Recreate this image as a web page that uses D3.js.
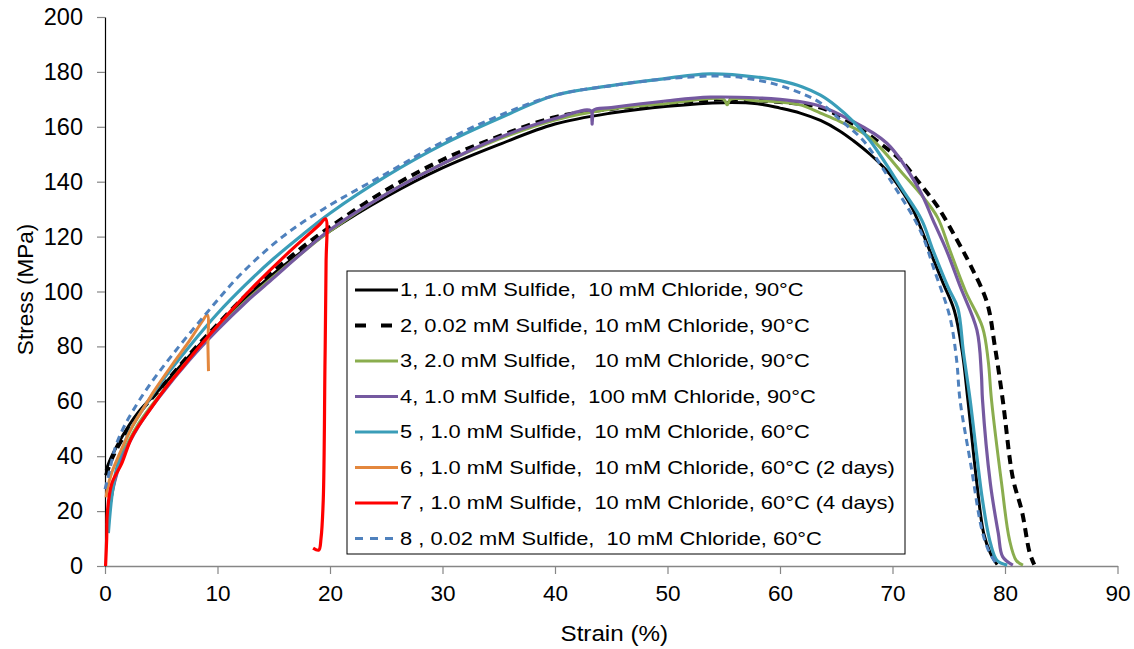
<!DOCTYPE html>
<html>
<head>
<meta charset="utf-8">
<script src="https://cdn.jsdelivr.net/npm/d3@7"></script>
<style>
  body { margin: 0; background: #fff; }
  text { font-family: "Liberation Sans", Arial, sans-serif; fill: #000; }
</style>
</head>
<body>
<script>
// Step 1: data, [strain %, stress MPa]
//= ================================
var s1 = [[0.1,35],[0.6,40],[1.5,47],[2.9,55.7],[5,65],[7.5,76.5],[10,87.5],[12.5,97.5],[15,106.5],[17.5,114.5],[20,122],[25,134.5],[30,145],[35,153.5],[40,161],[45,165],[50,167.5],[55,168.8],[58,168.4],[60,166.8],[61.8,165],[63.6,162.3],[65.3,158.5],[66.5,155],[68,150],[69.5,144],[70.7,137.5],[71.8,130],[73.3,115],[74.5,103],[75.5,93],[76.2,78],[76.7,60.5],[77.5,30],[78.1,12],[78.7,4.7],[79.3,0.5]];
var s2 = [[0.1,33],[0.6,39],[1.5,46],[3,55.5],[5,65],[7.5,77],[10,88],[12.5,98.5],[15,107.5],[17.5,116],[20,123.5],[25,137],[30,148],[35,156.5],[40,163.5],[45,166.5],[50,168.5],[55,170],[60,169],[63.6,167],[66.5,161],[69.2,153],[70.7,148],[72.4,139.5],[74,131],[75.7,119],[77,109],[78.4,96],[79.1,80],[79.8,60.5],[80.7,32],[81.5,20],[82.2,4.7],[82.6,0.5]];
var s3 = [[0.3,18],[0.8,30],[1.5,40],[3,52],[5,63],[7.5,75.5],[10,86.5],[12.5,96.5],[15,105.5],[17.5,114],[20,122],[25,135.5],[30,146.5],[35,155.5],[40,162.5],[45,166.5],[50,168.5],[55,170],[55.3,168],[55.6,170],[58,169.5],[60,169],[61.8,168],[63.6,165],[65.3,162],[68,156],[70.9,143],[72.5,135.5],[74,127],[75.1,115],[76.5,100],[78,87],[78.5,75],[78.8,60.5],[79.7,30],[80.4,9.5],[81,2],[81.6,0.3]];
var s4 = [[0.2,15],[0.7,28],[1.5,39],[3,51],[5,62.5],[7.5,75],[10,86],[12.5,96],[15,105],[17.5,114],[20,122.5],[25,135.5],[30,146.5],[35,156],[40,163],[43.2,165.8],[43.3,161],[43.4,166],[45,167],[50,169.5],[53.8,170.8],[58.2,170.5],[60,170],[62,169],[63.6,167.5],[66,163],[69.5,154],[72.4,137],[73.6,126],[74.8,115],[76,102],[77.5,86],[77.9,70],[78,60.5],[78.7,30],[79.4,12],[79.8,3.3],[80.7,0.3]];
var s5 = [[0.3,12],[0.6,25],[1,35],[2,47.5],[3.5,58],[5,67],[7.5,80],[10,92],[12.5,102.5],[15,112],[17.5,120.5],[20,128.5],[25,142],[30,153.5],[35,163],[40,171.5],[45,175],[48.7,177],[53.8,179.3],[58.2,178],[60,176.8],[62,174.5],[63.6,171.5],[65,167.5],[66.5,162],[68,155],[70.9,137],[72.6,126],[73.6,115],[75,101],[75.8,94],[76.3,78],[76.9,60.5],[77.5,40],[78,24],[78.7,8.4],[79.3,2],[80.2,0.3]];
var s6 = [[0.1,25],[0.2,28],[0.6,34],[1.2,40],[2.4,50.6],[3.5,58],[4.4,64],[6,73.5],[7.5,82],[8.7,89.5],[9.1,91.5],[9.15,80],[9.2,71]];
var s7 = [[0.05,0],[0.15,10],[0.2,19],[0.6,30],[1.5,37.5],[2.4,47],[4,57],[5.6,66],[7,73],[8.5,80.5],[10,87.5],[12.9,100.5],[16,113],[19.1,124.5],[19.6,126.5],[19.65,110],[19.55,72.5],[19.4,24],[19.2,10],[19.0,5.8],[18.5,6.5]];
var s8 = [[0,28],[0.2,31],[0.9,43],[1.6,50],[2.4,56],[3.8,65],[6,77],[9,92],[12,106],[15.8,120],[19.4,130],[25,143],[30,154.5],[35,164],[40,171.5],[45,175],[50,177.5],[55,178.5],[58,177],[60,175],[62,172],[63.6,168.7],[65.5,162],[67.4,155],[69.8,140.6],[72,126],[72.8,119],[73.7,108],[75.1,90.7],[75.7,75],[76,60.5],[77,36],[77.9,14],[78.5,6],[79.3,0.3]];

var labels = [
  "1, 1.0 mM Sulfide,  10 mM Chloride, 90°C",
  "2, 0.02 mM Sulfide, 10 mM Chloride, 90°C",
  "3, 2.0 mM Sulfide,   10 mM Chloride, 90°C",
  "4, 1.0 mM Sulfide,  100 mM Chloride, 90°C",
  "5 , 1.0 mM Sulfide,  10 mM Chloride, 60°C",
  "6 , 1.0 mM Sulfide,  10 mM Chloride, 60°C (2 days)",
  "7 , 1.0 mM Sulfide,  10 mM Chloride, 60°C (4 days)",
  "8 , 0.02 mM Sulfide,  10 mM Chloride, 60°C"
];
var xTicks = [0, 10, 20, 30, 40, 50, 60, 70, 80, 90];
var yTicks = [0, 20, 40, 60, 80, 100, 120, 140, 160, 180, 200];

// styles per series
var series = [
  {data: s1, color: "#000000", width: 3, dash: null, ldash: null},
  {data: s2, color: "#000000", width: 4, dash: "9,6", ldash: "11,15"},
  {data: s3, color: "#8aad4e", width: 3, dash: null, ldash: null},
  {data: s4, color: "#7559a0", width: 3.2, dash: null, ldash: null},
  {data: s5, color: "#3a9db8", width: 3.2, dash: null, ldash: null},
  {data: s6, color: "#e3873d", width: 3, dash: null, ldash: null},
  {data: s7, color: "#ff0000", width: 3.2, dash: null, ldash: null},
  {data: s8, color: "#4f81bd", width: 3, dash: "7,5", ldash: "8,7"}
];

// Step 2: chart frame
var margin = {top: 17, right: 16.5, bottom: 83, left: 105},
    width = 1134 - margin.left - margin.right,
    height = 649 - margin.top - margin.bottom;

var svg = d3.select("body")
    .append("svg")
    .attr("width", 1134)
    .attr("height", 649)
    .append("g")
    .attr("transform", "translate(" + margin.left + "," + margin.top + ")");

var x = d3.scaleLinear().domain([0, 90]).range([0, width]);
var y = d3.scaleLinear().domain([0, 200]).range([height, 0]);

// x axis
var gx = svg.append("g")
    .attr("transform", "translate(0," + height + ")")
    .call(d3.axisBottom(x).tickValues(xTicks).tickSize(8).tickSizeOuter(0));
gx.select(".domain").attr("stroke", "#868686").attr("stroke-width", 1.5);
gx.selectAll(".tick line").attr("stroke", "#868686").attr("stroke-width", 1.2);
gx.selectAll(".tick text").attr("font-size", 22.5).attr("dy", "1.05em")
    .style("font-family", "'Liberation Sans', Arial, sans-serif");

// y axis
var gy = svg.append("g")
    .call(d3.axisLeft(y).tickValues(yTicks).tickSize(8).tickSizeOuter(0));
gy.select(".domain").attr("stroke", "#000").attr("stroke-width", 1.2);
gy.selectAll(".tick line").attr("stroke", "#868686").attr("stroke-width", 1.2);
gy.selectAll(".tick text").attr("font-size", 23.5).attr("x", -22)
    .style("font-family", "'Liberation Sans', Arial, sans-serif");

// axis titles
svg.append("text")
    .attr("transform", "translate(" + (width / 2 + 3) + "," + (height + 75) + ") scale(1.1,1)")
    .attr("text-anchor", "middle")
    .attr("font-size", 22)
    .text("Strain (%)");

svg.append("text")
    .attr("transform", "translate(" + (-72) + "," + (height / 2 - 2) + ") rotate(-90)")
    .attr("text-anchor", "middle")
    .attr("font-size", 22.5)
    .text("Stress (MPa)");

// Step 3: the curves
var line = d3.line()
    .x(function(d) { return x(d[0]); })
    .y(function(d) { return y(d[1]); })
    .curve(d3.curveCatmullRom.alpha(0.5));

svg.append("g")
    .selectAll("path")
    .data(series)
    .enter().append("path")
    .attr("d", function(d) { return line(d.data); })
    .attr("fill", "none")
    .attr("stroke", function(d) { return d.color; })
    .attr("stroke-width", function(d) { return d.width; })
    .attr("stroke-dasharray", function(d) { return d.dash; })
    .attr("stroke-linejoin", "round");

// Step 4: legend
var lg = svg.append("g").attr("transform", "translate(" + (347 - margin.left) + "," + (271 - margin.top) + ")");
lg.append("rect")
    .attr("width", 558)
    .attr("height", 283)
    .attr("fill", "#fff")
    .attr("stroke", "#000")
    .attr("stroke-width", 1);

var items = lg.selectAll("g.item")
    .data(series)
    .enter().append("g")
    .attr("class", "item")
    .attr("transform", function(d, i) { return "translate(0," + (19 + i * 35.5) + ")"; });

items.append("line")
    .attr("x1", 8).attr("x2", 51)
    .attr("stroke", function(d) { return d.color; })
    .attr("stroke-width", function(d) { return d.width; })
    .attr("stroke-dasharray", function(d) { return d.ldash; });

items.append("text")
    .attr("transform", "translate(53,0) scale(1.25,1)")
    .attr("dy", "0.35em")
    .attr("font-size", 17.5)
    .style("white-space", "pre")
    .text(function(d, i) { return labels[i]; });
</script>
</body>
</html>
